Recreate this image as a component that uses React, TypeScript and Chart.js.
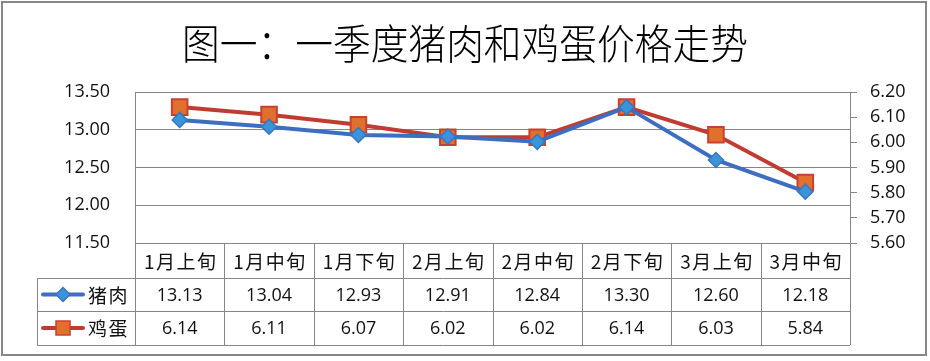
import React, { useEffect, useRef } from 'react';
import { Chart, registerables } from 'chart.js';
Chart.register(...registerables);

const titleText = '图一：一季度猪肉和鸡蛋价格走势';
const categories = ['1月上旬', '1月中旬', '1月下旬', '2月上旬', '2月中旬', '2月下旬', '3月上旬', '3月中旬'];
const porkName = '猪肉';
const eggName = '鸡蛋';
const porkValues = [13.13, 13.04, 12.93, 12.91, 12.84, 13.3, 12.6, 12.18];
const eggValues = [6.14, 6.11, 6.07, 6.02, 6.02, 6.14, 6.03, 5.84];
const leftRange = [11.5, 13.5, 0.5];
const rightRange = [5.6, 6.2, 0.1];

const GRID = '#868686';
const PORK_LINE = '#3D6EBF';
const PORK_FILL = '#3A95D8';
const PORK_BORDER = '#3B74C4';
const EGG_LINE = '#C03C32';
const EGG_FILL = '#E1702E';
const EGG_BORDER = '#C8402F';
const NUM_FONT = '"Open Sans", "Liberation Sans", sans-serif';
const CJK_FONT = '"Noto Sans CJK SC", sans-serif';

const tablePlugin = {
  id: 'tablePlugin',
  afterDraw(chart: any) {
    const ctx = chart.ctx as CanvasRenderingContext2D;
    const area = chart.chartArea;
    const W = chart.width;
    const left = area.left;
    const right = area.right;
    const top0 = area.bottom;
    const row1 = top0 + 35;
    const row2 = row1 + 33;
    const row3 = row2 + 34;
    const legLeft = 37;
    const n = categories.length;
    const bw = (right - left) / n;
    ctx.save();
    // frame
    ctx.strokeStyle = GRID;
    ctx.lineWidth = 2;
    ctx.strokeRect(2, 2, W - 6, 353);
    // title
    ctx.save();
    ctx.fillStyle = '#000';
    ctx.font = `300 41px ${CJK_FONT}`;
    ctx.textAlign = 'center';
    ctx.textBaseline = 'middle';
    ctx.translate(W / 2, 43);
    ctx.scale(0.92, 1);
    ctx.fillText(titleText, 0, 0);
    ctx.restore();
    // table lines
    ctx.lineWidth = 1;
    ctx.strokeStyle = GRID;
    ctx.beginPath();
    for (let i = 0; i <= n; i++) {
      const x = Math.round(left + i * bw) + 0.5;
      ctx.moveTo(x, top0);
      ctx.lineTo(x, row3);
    }
    [row1, row2, row3].forEach((y) => {
      ctx.moveTo(legLeft, y + 0.5);
      ctx.lineTo(right, y + 0.5);
    });
    ctx.moveTo(legLeft + 0.5, row1);
    ctx.lineTo(legLeft + 0.5, row3);
    ctx.stroke();
    // category labels
    ctx.fillStyle = '#111';
    ctx.textAlign = 'center';
    ctx.textBaseline = 'middle';
    for (let i = 0; i < n; i++) {
      const cx = left + (i + 0.5) * bw;
      ctx.font = `19px ${CJK_FONT}`;
      (ctx as any).letterSpacing = '1.5px';
      ctx.fillText(categories[i], cx + 1, (top0 + row1) / 2 + 1);
      (ctx as any).letterSpacing = '0px';
      ctx.font = `18px ${NUM_FONT}`;
      ctx.fillText(porkValues[i].toFixed(2), cx, (row1 + row2) / 2 + 1);
      ctx.fillText(eggValues[i].toFixed(2), cx, (row2 + row3) / 2 + 1);
    }
    // legend
    const drawLeg = (y: number, line: string, fill: string, border: string, style: string, name: string) => {
      ctx.strokeStyle = line;
      ctx.lineWidth = 4;
      ctx.lineCap = 'round';
      ctx.beginPath();
      ctx.moveTo(43, y);
      ctx.lineTo(83, y);
      ctx.stroke();
      ctx.fillStyle = fill;
      ctx.strokeStyle = border;
      ctx.lineWidth = 1.5;
      ctx.beginPath();
      const cx = 63;
      if (style === 'diamond') {
        const r = 7;
        ctx.moveTo(cx - r, y);
        ctx.lineTo(cx, y - r);
        ctx.lineTo(cx + r, y);
        ctx.lineTo(cx, y + r);
        ctx.closePath();
      } else {
        ctx.rect(cx - 7, y - 7, 14, 14);
      }
      ctx.fill();
      ctx.stroke();
      ctx.fillStyle = '#111';
      ctx.font = `19px ${CJK_FONT}`;
      (ctx as any).letterSpacing = '1.5px';
      ctx.textAlign = 'left';
      ctx.fillText(name, 88, y + 1);
      (ctx as any).letterSpacing = '0px';
    };
    drawLeg((row1 + row2) / 2, PORK_LINE, PORK_FILL, PORK_BORDER, 'diamond', porkName);
    drawLeg((row2 + row3) / 2, EGG_LINE, EGG_FILL, EGG_BORDER, 'rect', eggName);
    ctx.restore();
  },
};

export default function App() {
  const ref = useRef<HTMLCanvasElement>(null);
  useEffect(() => {
    document.body.style.margin = '0';
    const chart = new Chart(ref.current as HTMLCanvasElement, {
      type: 'line',
      data: {
        labels: categories,
        datasets: [
          {
            label: porkName,
            data: porkValues,
            yAxisID: 'y',
            borderColor: PORK_LINE,
            borderWidth: 4,
            pointStyle: 'rectRot',
            pointRadius: 7.5,
            pointBackgroundColor: PORK_FILL,
            pointBorderColor: PORK_BORDER,
            pointBorderWidth: 1.5,
            tension: 0,
          },
          {
            label: eggName,
            data: eggValues,
            yAxisID: 'y1',
            borderColor: EGG_LINE,
            borderWidth: 4,
            pointStyle: 'rect',
            pointRadius: 11,
            pointBackgroundColor: EGG_FILL,
            pointBorderColor: EGG_BORDER,
            pointBorderWidth: 2,
            tension: 0,
          },
        ],
      },
      options: {
        responsive: false,
        animation: false,
        layout: { padding: { left: 0, right: 0, top: 92, bottom: 118 } },
        plugins: { legend: { display: false }, tooltip: { enabled: false }, title: { display: false } },
        scales: {
          x: { type: 'category', offset: true, display: false },
          y: {
            position: 'left',
            min: leftRange[0],
            max: leftRange[1],
            ticks: {
              stepSize: leftRange[2],
              padding: 25,
              color: '#111',
              font: { family: NUM_FONT, size: 18 },
              callback: (v: any) => Number(v).toFixed(2),
            },
            grid: { color: GRID, drawTicks: false, lineWidth: 1 },
            border: { display: true, color: GRID },
            afterFit: (s: any) => { s.width = 135; },
          },
          y1: {
            position: 'right',
            min: rightRange[0],
            max: rightRange[1],
            ticks: {
              stepSize: rightRange[2],
              padding: 13,
              color: '#111',
              font: { family: NUM_FONT, size: 18 },
              callback: (v: any) => Number(v).toFixed(2),
            },
            grid: { color: GRID, drawOnChartArea: false, drawTicks: true, tickLength: 7 },
            border: { display: true, color: GRID },
            afterFit: (s: any) => { s.width = 80; },
          },
        },
      },
      plugins: [tablePlugin],
    } as any);
    return () => chart.destroy();
  }, []);
  return (
    <div style={{ width: 930, height: 361 }}>
      <canvas ref={ref} width={930} height={361} style={{ display: 'block', width: 930, height: 361 }} />
    </div>
  );
}
